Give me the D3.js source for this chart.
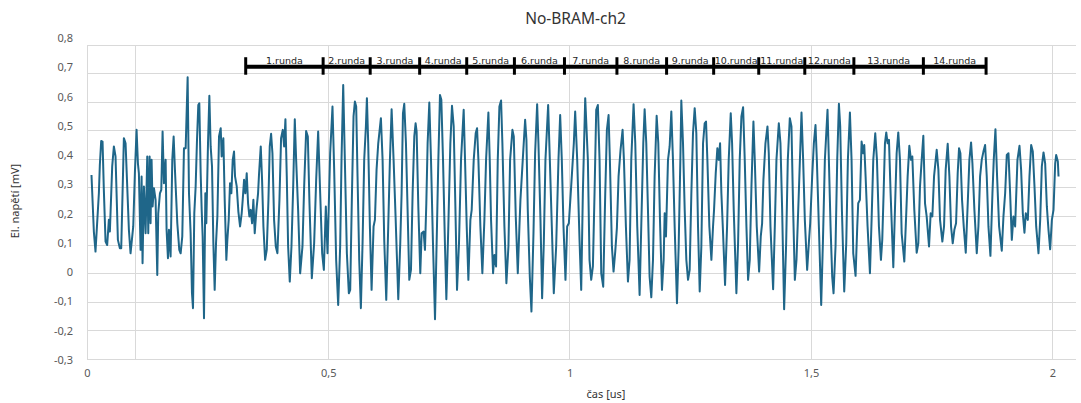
<!DOCTYPE html>
<html lang="cs">
<head>
<meta charset="utf-8">
<title>No-BRAM-ch2</title>
<script src="https://cdn.jsdelivr.net/npm/d3@7"></script>
<style>
  body { margin: 0; background: #fff; }
  svg { display: block; }
  .grid line { stroke: #d9d9d9; stroke-width: 1; shape-rendering: crispEdges; }
  .axis text { font-family: "Noto Sans", sans-serif; font-size: 11px; fill: #595959; }
  .axis path { display: none; }
</style>
</head>
<body>
<div id="chart"></div>
<script>
// namerene napeti: [cas v us, napeti v mV]
var prubeh = [
  [0.0093,0.345],[0.0142,0.147],[0.0176,0.077],[0.0246,0.281],[0.0266,0.380],[0.0294,0.464],[0.0322,0.462],[0.0349,0.293],[0.0384,0.112],[0.0418,0.100],
  [0.0453,0.188],[0.0474,0.147],[0.0522,0.375],[0.0557,0.445],[0.0591,0.410],[0.0640,0.118],[0.0681,0.089],[0.0709,0.089],[0.0764,0.474],[0.0799,0.456],
  [0.0868,0.153],[0.0902,0.071],[0.0958,0.165],[0.0992,0.351],[0.1027,0.503],[0.1055,0.386],[0.1075,0.351],[0.1110,0.083],[0.1131,0.340],[0.1151,0.036],
  [0.1179,0.305],[0.1214,0.141],[0.1248,0.410],[0.1269,0.141],[0.1297,0.410],[0.1317,0.176],[0.1338,0.398],[0.1359,0.235],[0.1387,0.299],[0.1421,0.258],
  [0.1456,-0.005],[0.1476,0.211],[0.1511,0.281],[0.1539,0.293],[0.1566,0.497],[0.1594,0.316],[0.1629,0.398],[0.1649,0.153],[0.1677,0.054],[0.1698,0.153],
  [0.1732,0.060],[0.1767,0.398],[0.1795,0.480],[0.1822,0.363],[0.1871,0.176],[0.1912,0.083],[0.1940,0.071],[0.1974,0.130],[0.2009,0.439],[0.2044,0.439],
  [0.2085,0.687],[0.2113,0.281],[0.2147,0.141],[0.2175,-0.069],[0.2196,-0.121],[0.2223,0.211],[0.2251,0.305],[0.2279,0.468],[0.2306,0.590],[0.2327,0.596],
  [0.2355,0.351],[0.2376,0.223],[0.2396,0.130],[0.2424,-0.156],[0.2452,0.281],[0.2472,0.176],[0.2507,0.456],[0.2535,0.622],[0.2562,0.445],[0.2590,0.375],
  [0.2618,0.106],[0.2645,-0.057],[0.2673,0.106],[0.2701,0.200],[0.2735,0.480],[0.2770,0.509],[0.2790,0.410],[0.2825,0.474],[0.2853,0.258],[0.2887,0.048],
  [0.2908,0.118],[0.2936,0.188],[0.2963,0.316],[0.2991,0.281],[0.3019,0.398],[0.3046,0.427],[0.3067,0.340],[0.3102,0.305],[0.3136,0.217],[0.3171,0.165],
  [0.3205,0.211],[0.3226,0.258],[0.3254,0.328],[0.3281,0.281],[0.3309,0.351],[0.3337,0.246],[0.3364,0.200],[0.3392,0.223],[0.3420,0.176],[0.3447,0.258],
  [0.3475,0.141],[0.3510,0.223],[0.3544,0.281],[0.3565,0.351],[0.3600,0.445],[0.3627,0.328],[0.3655,0.165],[0.3690,0.048],[0.3724,0.083],[0.3759,0.258],
  [0.3786,0.445],[0.3814,0.489],[0.3842,0.421],[0.3876,0.188],[0.3911,0.095],[0.3945,0.071],[0.3987,0.258],[0.4021,0.474],[0.4056,0.503],[0.4084,0.445],
  [0.4111,0.540],[0.4139,0.340],[0.4167,0.095],[0.4201,-0.028],[0.4236,0.095],[0.4270,0.293],[0.4305,0.540],[0.4333,0.398],[0.4374,0.223],[0.4416,0.001],
  [0.4464,0.095],[0.4499,0.305],[0.4540,0.499],[0.4575,0.480],[0.4609,0.246],[0.4658,-0.016],[0.4706,0.106],[0.4748,0.328],[0.4789,0.497],[0.4831,0.281],
  [0.4872,0.071],[0.4907,0.013],
  [0.4948,0.235],[0.4983,0.071],[0.5038,0.421],[0.5086,0.585],[0.5121,0.363],[0.5162,0.048],[0.5204,-0.110],[0.5245,0.095],[0.5273,0.398],[0.5308,0.660],
  [0.5342,0.398],[0.5384,0.071],[0.5425,-0.069],[0.5453,-0.057],[0.5487,0.258],[0.5522,0.550],[0.5550,0.602],[0.5577,0.585],[0.5605,0.340],[0.5640,0.048],
  [0.5674,-0.121],[0.5709,0.106],[0.5743,0.398],[0.5778,0.515],[0.5799,0.614],[0.5826,0.456],[0.5861,0.165],[0.5896,-0.057],[0.5937,0.165],[0.5965,0.188],
  [0.5999,0.363],[0.6034,0.456],[0.6089,0.544],[0.6124,0.398],[0.6158,0.118],[0.6200,-0.092],[0.6241,0.165],[0.6276,0.398],[0.6311,0.575],[0.6352,0.398],
  [0.6393,0.200],[0.6449,-0.090],[0.6490,0.106],[0.6518,0.281],[0.6546,0.561],[0.6573,0.594],[0.6608,0.456],[0.6642,0.223],[0.6677,-0.022],[0.6712,0.013],
  [0.6746,0.281],[0.6781,0.480],[0.6808,0.526],[0.6829,0.497],[0.6864,0.235],[0.6905,0.001],[0.6933,0.141],[0.6974,0.147],[0.7002,0.083],[0.7030,0.246],
  [0.7057,0.456],[0.7092,0.599],[0.7127,0.398],[0.7168,0.106],[0.7210,-0.160],[0.7251,0.165],[0.7279,0.398],[0.7313,0.625],[0.7341,0.608],[0.7376,0.398],
  [0.7417,0.095],[0.7445,-0.090],[0.7486,0.165],[0.7528,0.456],[0.7562,0.587],[0.7597,0.515],[0.7632,0.235],[0.7666,-0.057],[0.7707,0.106],[0.7749,0.398],
  [0.7804,0.573],[0.7832,0.398],[0.7867,0.165],[0.7901,-0.022],[0.7943,0.188],[0.7970,0.223],[0.8012,0.398],[0.8053,0.491],[0.8081,0.509],[0.8109,0.398],
  [0.8150,0.165],[0.8191,0.001],[0.8233,0.188],[0.8268,0.398],[0.8316,0.564],[0.8344,0.398],[0.8371,0.188],[0.8413,0.001],[0.8441,0.065],[0.8475,0.025],
  [0.8510,0.398],[0.8544,0.585],[0.8579,0.606],[0.8606,0.456],[0.8648,0.165],[0.8689,-0.034],[0.8731,0.095],[0.8766,0.398],[0.8814,0.503],[0.8842,0.480],
  [0.8883,0.200],[0.8925,0.001],[0.8959,0.165],[0.8980,0.258],[0.9028,0.398],[0.9077,0.538],[0.9104,0.468],[0.9132,0.223],[0.9174,-0.011],[0.9208,-0.133],
  [0.9250,0.141],[0.9284,0.421],[0.9326,0.593],[0.9353,0.456],[0.9395,0.188],[0.9429,-0.086],[0.9464,0.106],[0.9498,0.398],[0.9554,0.590],[0.9589,0.398],
  [0.9630,0.165],[0.9671,-0.069],[0.9720,0.095],[0.9768,0.398],[0.9803,0.555],[0.9837,0.398],[0.9872,0.165],[0.9913,-0.022],[0.9948,0.165],[0.9983,0.176],
  [1.0031,0.305],[1.0086,0.456],[1.0114,0.567],[1.0156,0.398],[1.0204,0.118],[1.0239,-0.057],
  [1.0273,0.281],[1.0322,0.614],[1.0377,0.398],[1.0411,0.048],[1.0446,-0.022],[1.0481,0.025],[1.0515,0.281],[1.0550,0.573],[1.0584,0.590],[1.0619,0.398],
  [1.0654,0.001],[1.0695,-0.046],[1.0737,0.281],[1.0771,0.503],[1.0806,0.555],[1.0833,0.398],[1.0875,0.095],[1.0909,0.007],[1.0944,0.077],[1.0978,0.159],
  [1.1013,0.340],[1.1054,0.433],[1.1096,0.503],[1.1124,0.398],[1.1165,0.165],[1.1207,-0.028],[1.1241,0.048],[1.1276,0.398],[1.1324,0.593],[1.1359,0.456],
  [1.1400,0.165],[1.1449,-0.075],[1.1483,0.165],[1.1525,0.456],[1.1553,0.575],[1.1587,0.456],[1.1622,0.223],[1.1656,-0.011],[1.1691,-0.083],[1.1726,0.048],
  [1.1760,0.340],[1.1802,0.552],[1.1836,0.456],[1.1871,0.188],[1.1912,-0.057],[1.1947,0.048],[1.1968,0.211],[1.1995,0.130],[1.2037,0.398],[1.2071,0.445],
  [1.2106,0.567],[1.2140,0.398],[1.2175,0.165],[1.2223,-0.104],[1.2258,0.095],[1.2293,0.398],[1.2313,0.606],[1.2348,0.456],[1.2383,0.223],[1.2417,0.048],
  [1.2452,-0.022],[1.2486,0.013],[1.2521,0.281],[1.2555,0.491],[1.2590,0.579],[1.2624,0.491],[1.2659,0.165],[1.2694,-0.063],[1.2728,0.095],[1.2763,0.456],
  [1.2797,0.526],[1.2825,0.532],[1.2853,0.398],[1.2894,0.165],[1.2936,0.048],[1.2970,0.165],[1.2991,0.223],[1.3026,0.351],[1.3060,0.439],[1.3088,0.398],
  [1.3116,0.456],[1.3143,0.281],[1.3178,0.141],[1.3219,-0.040],[1.3261,0.165],[1.3295,0.398],[1.3337,0.561],[1.3365,0.456],[1.3399,0.223],[1.3454,-0.069],
  [1.3489,0.106],[1.3523,0.398],[1.3558,0.550],[1.3593,0.582],[1.3627,0.398],[1.3662,0.165],[1.3696,-0.022],[1.3731,0.048],[1.3766,0.305],[1.3807,0.532],
  [1.3835,0.398],[1.3876,0.165],[1.3925,0.007],[1.3959,0.130],[1.3987,0.176],[1.4014,0.328],[1.4056,0.456],[1.4098,0.515],[1.4125,0.421],[1.4160,0.165],
  [1.4215,-0.055],[1.4250,0.165],[1.4284,0.398],[1.4333,0.526],[1.4367,0.456],[1.4402,0.223],[1.4443,-0.125],[1.4485,0.106],[1.4519,0.398],[1.4561,0.544],
  [1.4595,0.515],[1.4630,0.223],[1.4665,-0.022],[1.4699,0.048],[1.4747,0.281],[1.4803,0.564],[1.4837,0.398],[1.4872,0.188],[1.4920,0.013],[1.4955,0.106],
  [1.4983,0.176],[1.5024,0.340],[1.5059,0.456],[1.5093,0.520],[1.5121,0.398],[1.5163,0.165],[1.5211,-0.110],[1.5246,0.106],[1.5287,0.398],[1.5342,0.573],
  [1.5370,0.398],[1.5405,0.165],[1.5439,-0.011],[1.5467,-0.069],[1.5508,0.095],[1.5543,0.398],[1.5578,0.594],[1.5605,0.515],[1.5640,0.223],
  [1.5688,-0.063],[1.5730,0.106],[1.5764,0.398],[1.5806,0.564],[1.5840,0.398],[1.5875,0.071],[1.5923,-0.008],[1.5958,0.165],[1.5978,0.246],[1.6013,0.258],
  [1.6048,0.462],[1.6082,0.421],[1.6103,0.450],[1.6131,0.340],[1.6172,0.165],[1.6221,0.001],[1.6255,0.188],[1.6290,0.398],[1.6331,0.491],[1.6366,0.398],
  [1.6407,0.165],[1.6449,0.048],[1.6476,0.118],[1.6504,0.281],[1.6532,0.456],[1.6559,0.494],[1.6587,0.456],[1.6615,0.468],[1.6649,0.281],[1.6705,0.022],
  [1.6739,0.223],[1.6774,0.421],[1.6808,0.494],[1.6843,0.398],[1.6878,0.141],[1.6933,0.042],[1.6968,0.188],[1.7002,0.340],[1.7037,0.447],[1.7071,0.398],
  [1.7099,0.410],[1.7140,0.223],[1.7189,0.073],[1.7223,0.106],[1.7258,0.305],[1.7293,0.398],[1.7327,0.482],[1.7362,0.246],[1.7396,0.200],[1.7445,0.095],
  [1.7479,0.211],[1.7514,0.200],[1.7549,0.340],[1.7576,0.386],[1.7604,0.433],[1.7639,0.363],[1.7673,0.188],[1.7721,0.112],[1.7756,0.165],[1.7790,0.363],
  [1.7832,0.454],[1.7867,0.340],[1.7901,0.165],[1.7936,0.106],[1.7970,0.153],[1.8005,0.176],[1.8039,0.351],[1.8067,0.439],[1.8095,0.421],[1.8129,0.258],
  [1.8164,0.165],[1.8206,0.073],[1.8247,0.246],[1.8281,0.398],[1.8316,0.459],[1.8344,0.386],[1.8385,0.223],[1.8434,0.071],[1.8468,0.165],[1.8503,0.340],
  [1.8537,0.398],[1.8572,0.427],[1.8607,0.450],[1.8641,0.340],[1.8676,0.165],[1.8717,0.062],[1.8759,0.281],[1.8786,0.398],[1.8821,0.505],[1.8855,0.340],
  [1.8897,0.165],[1.8952,0.080],[1.8987,0.200],[1.9022,0.281],[1.9056,0.415],[1.9091,0.421],[1.9125,0.281],[1.9160,0.118],[1.9194,0.200],[1.9229,0.165],
  [1.9277,0.398],[1.9319,0.447],[1.9353,0.363],[1.9388,0.211],[1.9422,0.143],[1.9450,0.211],[1.9492,0.188],[1.9526,0.340],[1.9561,0.450],[1.9595,0.427],
  [1.9630,0.305],[1.9665,0.165],[1.9713,0.071],[1.9748,0.188],[1.9782,0.375],[1.9817,0.424],[1.9851,0.386],[1.9886,0.235],[1.9920,0.153],[1.9955,0.085],
  [1.9990,0.188],[2.0024,0.223],[2.0059,0.386],[2.0079,0.415],[2.0114,0.392],[2.0128,0.340]
];

var yTicks = [-0.3, -0.2, -0.1, 0, 0.1, 0.2, 0.3, 0.4, 0.5, 0.6, 0.7, 0.8];
var xTicks = [0, 0.5, 1, 1.5, 2];
var xGrid = [0.1, 0.5, 1, 1.5, 2];

// useky (rundy) nad prubehem
var kolaNazvy = ["1.runda", "2.runda", "3.runda", "4.runda", "5.runda", "6.runda", "7.runda",
                 "8.runda", "9.runda", "10.runda", "11.runda", "12.runda", "13.runda", "14.runda"];
var kolaHranice = [0.3288, 0.4892, 0.5867, 0.6892, 0.7867, 0.8855, 0.9892, 1.0979,
                   1.2008, 1.2983, 1.3917, 1.4871, 1.5888, 1.7328, 1.8627];
var kolaUroven = 0.724;

var svgWidth = 1081;
var svgHeight = 403;

var margin = { top: 45, right: 5, bottom: 43.7, left: 87 };
var width = svgWidth - margin.left - margin.right;
var height = svgHeight - margin.top - margin.bottom;

var carka = function(d) { return String(+d.toFixed(1)).replace(".", ","); };

var svg = d3.select("#chart")
  .append("svg")
  .attr("width", svgWidth)
  .attr("height", svgHeight);

var chartGroup = svg.append("g")
  .attr("transform", `translate(${margin.left}, ${margin.top})`);

var xScale = d3.scaleLinear().domain([0, 2.049]).range([0, width]);
var yScale = d3.scaleLinear().domain([-0.3, 0.8]).range([height, 0]);
// popisky osy y sedi o kousek vys nez mrizka
var yLabelScale = d3.scaleLinear().domain([-0.3, 0.8]).range([height + 0.7, -7]);

// mrizka
var grid = chartGroup.append("g").attr("class", "grid");
grid.selectAll("line.h")
  .data(yTicks)
  .enter()
  .append("line")
  .attr("class", "h")
  .attr("x1", 0)
  .attr("x2", width)
  .attr("y1", d => yScale(d))
  .attr("y2", d => yScale(d));

grid.selectAll("line.v")
  .data(xGrid)
  .enter()
  .append("line")
  .attr("class", "v")
  .attr("x1", d => xScale(d))
  .attr("x2", d => xScale(d))
  .attr("y1", 0)
  .attr("y2", height);

grid.append("line")
  .attr("x1", 0).attr("x2", 0)
  .attr("y1", 0).attr("y2", height);

// osy
var leftAxis = d3.axisLeft(yLabelScale)
  .tickValues(yTicks)
  .tickSize(0)
  .tickPadding(14)
  .tickFormat(carka);

chartGroup.append("g")
  .attr("class", "axis")
  .call(leftAxis);

var bottomAxis = d3.axisBottom(xScale)
  .tickValues(xTicks)
  .tickSize(0)
  .tickPadding(10)
  .tickFormat(carka);

chartGroup.append("g")
  .attr("class", "axis")
  .attr("transform", `translate(0, ${height})`)
  .call(bottomAxis);

// prubeh napeti
var line = d3.line()
  .x(d => xScale(d[0]))
  .y(d => yScale(d[1]));

chartGroup.append("path")
  .datum(prubeh)
  .attr("fill", "none")
  .attr("stroke", "#1f6689")
  .attr("stroke-width", 2)
  .attr("stroke-linejoin", "round")
  .attr("d", line);

// rundy
var kolaY = yScale(kolaUroven);
var kola = chartGroup.append("g");

kola.append("line")
  .attr("x1", xScale(kolaHranice[0]))
  .attr("x2", xScale(kolaHranice[kolaHranice.length - 1]))
  .attr("y1", kolaY)
  .attr("y2", kolaY)
  .attr("stroke", "#000")
  .attr("stroke-width", 4);

kola.selectAll("line.tick")
  .data(kolaHranice)
  .enter()
  .append("line")
  .attr("class", "tick")
  .attr("x1", d => xScale(d))
  .attr("x2", d => xScale(d))
  .attr("y1", kolaY - 9.5)
  .attr("y2", kolaY + 8)
  .attr("stroke", "#000")
  .attr("stroke-width", 3);

kola.selectAll("text")
  .data(kolaNazvy)
  .enter()
  .append("text")
  .attr("x", (d, i) => (xScale(kolaHranice[i]) + xScale(kolaHranice[i + 1])) / 2)
  .attr("y", kolaY - 3)
  .attr("text-anchor", "middle")
  .attr("font-family", "DejaVu Sans, sans-serif")
  .attr("font-size", "9.5px")
  .attr("fill", "#262626")
  .text(d => d);

// nadpisy
svg.append("text")
  .attr("x", 575.5)
  .attr("y", 24)
  .attr("text-anchor", "middle")
  .attr("font-family", "Noto Sans, sans-serif")
  .attr("font-size", "15.5px")
  .attr("fill", "#333")
  .text("No-BRAM-ch2");

svg.append("text")
  .attr("transform", "rotate(-90)")
  .attr("x", -201)
  .attr("y", 19)
  .attr("text-anchor", "middle")
  .attr("font-family", "Noto Sans, sans-serif")
  .attr("font-size", "11px")
  .attr("fill", "#333")
  .text("El. napětí [mV]");

svg.append("text")
  .attr("x", 606)
  .attr("y", 398)
  .attr("text-anchor", "middle")
  .attr("font-family", "Noto Sans, sans-serif")
  .attr("font-size", "11px")
  .attr("fill", "#333")
  .text("čas [us]");
</script>
</body>
</html>
